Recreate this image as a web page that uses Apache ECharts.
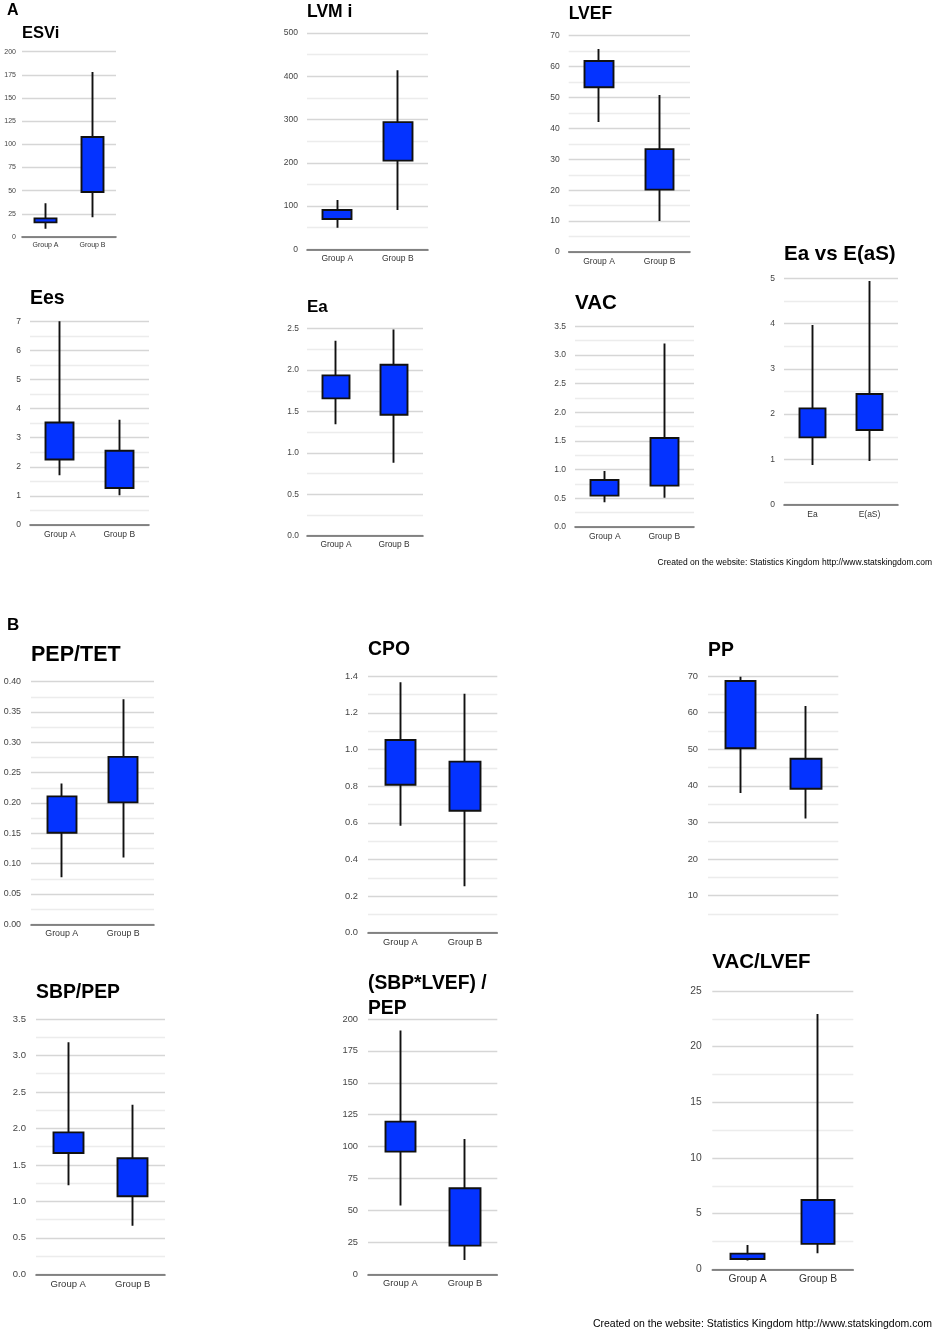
<!DOCTYPE html>
<html>
<head>
<meta charset="utf-8">
<script src="https://cdn.jsdelivr.net/npm/echarts@6/dist/echarts.min.js"></script>
<style>
  html, body { margin: 0; padding: 0; background: #fff; }
  #chart { width: 938px; height: 1339px; }
</style>
</head>
<body>
<div id="chart"></div>
<script>
// categories
const groups = ['Group A', 'Group B']
const eaCats = ['Ea', 'E(aS)']

// each box: [low, Q1, Q3, high]
const esvi = [[9, 15.8, 20.1, 36.3], [21.2, 48.6, 107.9, 178]]
const lvmi = [[50, 70, 91, 114], [91, 205, 294, 414]]
const lvef = [[42.1, 53.3, 61.8, 65.7], [10, 20.2, 33.3, 50.8]]
const ees = [[1.71, 2.25, 3.52, 7.0], [1.02, 1.27, 2.55, 3.62]]
const ea = [[1.345, 1.659, 1.936, 2.355], [0.882, 1.461, 2.065, 2.49]]
const vac = [[0.43, 0.547, 0.82, 0.977], [0.512, 0.721, 1.552, 3.2]]
const eaVsEas = [[0.876, 1.487, 2.128, 3.97], [0.965, 1.65, 2.445, 4.94]]
const pepTet = [[0.0775, 0.151, 0.211, 0.232], [0.110, 0.201, 0.276, 0.371]]
const cpo = [[0.584, 0.808, 1.052, 1.367], [0.253, 0.666, 0.934, 1.305]]
const pp = [[38.05, 50.25, 68.65, 69.8], [31.1, 39.2, 47.4, 61.8]]
const sbpPep = [[1.22, 1.663, 1.946, 3.18], [0.667, 1.069, 1.59, 2.325]]
const sbpLvefPep = [[53.8, 96.1, 119.6, 190.9], [11.2, 22.5, 67.4, 106]]
const vacLvef = [[0.78, 0.93, 1.41, 2.19], [1.44, 2.28, 6.23, 22.93]]

// panel layout (pixels) and axis setup
const panels = [
  {title: 'ESVi', data: esvi, cats: groups, left: 22, top: 51.7, width: 94, height: 185.3, min: 0, max: 200, step: 25, minor: false, dec: 0, fs: 7, tfs: 16.5, ty: 33, lm: 6},
  {title: 'LVM i', data: lvmi, cats: groups, left: 307, top: 33, width: 121, height: 216.3, min: 0, max: 500, step: 100, minor: true, dec: 0, fs: 8.5, tfs: 17.5, ty: 12, lm: 9},
  {title: 'LVEF', data: lvef, cats: groups, left: 568.7, top: 35.7, width: 121.3, height: 216.3, min: 0, max: 70, step: 10, minor: true, dec: 0, fs: 8.5, tfs: 17.5, ty: 14, lm: 9},
  {title: 'Ees', data: ees, cats: groups, left: 30, top: 321.3, width: 119, height: 203.7, min: 0, max: 7, step: 1, minor: true, dec: 0, fs: 8.5, tfs: 19.5, ty: 299, lm: 9},
  {title: 'Ea', data: ea, cats: groups, left: 307, top: 328.7, width: 116, height: 207, min: 0, max: 2.5, step: 0.5, minor: true, dec: 1, fs: 8.4, tfs: 17, ty: 307.7, lm: 8},
  {title: 'VAC', data: vac, cats: groups, left: 575, top: 326.3, width: 119, height: 200.7, min: 0, max: 3.5, step: 0.5, minor: true, dec: 1, fs: 8.5, tfs: 20.5, ty: 303, lm: 9},
  {title: 'Ea vs E(aS)', data: eaVsEas, cats: eaCats, left: 784, top: 278.3, width: 114, height: 226.4, min: 0, max: 5, step: 1, minor: true, dec: 0, fs: 8.5, tfs: 20.5, ty: 254, lm: 9},
  {title: 'PEP/TET', data: pepTet, cats: groups, left: 31, top: 681.7, width: 123, height: 242.6, min: 0, max: 0.4, step: 0.05, minor: true, dec: 2, fs: 8.9, tfs: 21.5, ty: 655, lm: 10},
  {title: 'CPO', data: cpo, cats: groups, left: 368, top: 676.3, width: 129.3, height: 256.4, min: 0, max: 1.4, step: 0.2, minor: true, dec: 1, fs: 9.3, tfs: 19.4, ty: 650, lm: 10},
  {title: 'PP', data: pp, cats: groups, left: 708, top: 676, width: 130.3, height: 238, min: 5, max: 70, step: 10, minor: true, dec: 0, fs: 9.3, tfs: 19.4, ty: 650.7, lm: 10, noX: true},
  {title: 'SBP/PEP', data: sbpPep, cats: groups, left: 36, top: 1019, width: 129, height: 255.3, min: 0, max: 3.5, step: 0.5, minor: true, dec: 1, fs: 9.5, tfs: 19.4, ty: 993, lm: 10},
  {title: '(SBP*LVEF) /\nPEP', data: sbpLvefPep, cats: groups, left: 368, top: 1019, width: 129.3, height: 255.3, min: 0, max: 200, step: 25, minor: false, dec: 0, fs: 9.3, tfs: 19.3, ty: 984, lh: 24.3, lm: 10},
  {title: 'VAC/LVEF', data: vacLvef, cats: groups, left: 712.3, top: 991, width: 141, height: 278.3, min: 0, max: 25, step: 5, minor: true, dec: 0, fs: 10.3, tfs: 20.5, ty: 962.7, lm: 10.5},
]

const FONT = 'Arial, "Liberation Sans", sans-serif'
const BOX = '#0433ff'
const MAJOR = '#d6d6d6'
const MINOR = '#ececec'

const chart = echarts.init(document.getElementById('chart'), null, {renderer: 'canvas'})

function isMajor(v, p) {
  const r = v / p.step
  return Math.abs(r - Math.round(r)) < 1e-6
}

const grid = [], xAxis = [], yAxis = [], series = [], title = []

panels.forEach((p, i) => {
  grid.push({left: p.left, top: p.top, width: p.width, height: p.height})
  xAxis.push({
    gridIndex: i,
    type: 'category',
    data: p.cats,
    axisTick: {show: false},
    axisLine: {show: !p.noX, lineStyle: {color: '#666', width: 1.6}},
    axisLabel: {show: !p.noX, fontSize: p.fs, color: '#333', margin: 5, fontFamily: FONT},
    splitLine: {show: false}
  })
  const first = isMajor(p.min, p)
  yAxis.push({
    gridIndex: i,
    type: 'value',
    min: p.min,
    max: p.max,
    interval: p.minor ? p.step / 2 : p.step,
    axisLine: {show: false},
    axisTick: {show: false},
    axisLabel: {
      fontSize: p.fs, color: '#444', margin: p.lm, fontFamily: FONT,
      formatter: v => isMajor(v, p) ? v.toFixed(p.dec) : ''
    },
    splitLine: {
      lineStyle: {
        width: 1.3,
        color: p.minor ? (first ? [MAJOR, MINOR] : [MINOR, MAJOR]) : MAJOR
      }
    }
  })
  series.push({
    type: 'candlestick',
    xAxisIndex: i,
    yAxisIndex: i,
    barWidth: '48%',
    // candlestick wants [open, close, lowest, highest]
    data: p.data.map(d => [d[1], d[2], d[0], d[3]]),
    itemStyle: {
      color: BOX, color0: BOX,
      borderColor: '#111', borderColor0: '#111',
      borderWidth: 1.9
    }
  })
  const lh = p.lh || p.tfs
  title.push({
    text: p.title,
    left: p.left,
    top: p.ty - lh / 2,
    padding: 0,
    textStyle: {fontSize: p.tfs, fontWeight: 'bold', color: '#000', fontFamily: FONT, lineHeight: lh}
  })
})

// panel letters and credits
title.push({text: 'A', left: 7, top: 3, padding: 0, textStyle: {fontSize: 16, fontWeight: 'bold', color: '#000', fontFamily: FONT, lineHeight: 16}})
title.push({text: 'B', left: 7, top: 617, padding: 0, textStyle: {fontSize: 17, fontWeight: 'bold', color: '#000', fontFamily: FONT, lineHeight: 17}})
title.push({text: 'Created on the website: Statistics Kingdom http://www.statskingdom.com', right: 6, top: 558.5, padding: 0,
  textStyle: {fontSize: 8.5, fontWeight: 'normal', color: '#000', fontFamily: FONT, lineHeight: 9}})
title.push({text: 'Created on the website: Statistics Kingdom http://www.statskingdom.com', right: 6, top: 1318.5, padding: 0,
  textStyle: {fontSize: 10.5, fontWeight: 'normal', color: '#000', fontFamily: FONT, lineHeight: 11}})

chart.setOption({
  animation: false,
  backgroundColor: '#fff',
  title,
  grid,
  xAxis,
  yAxis,
  series
})
</script>
</body>
</html>
